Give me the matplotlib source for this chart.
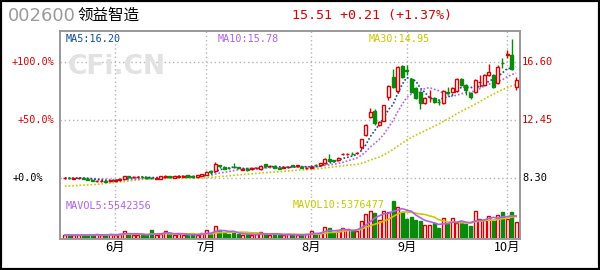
import matplotlib
matplotlib.use("Agg")
import matplotlib.pyplot as plt
import numpy as np
import pandas as pd
from matplotlib.patches import Rectangle

# ---------------- data ----------------
code = "002600"
name = "领益智造"
quote = "15.51 +0.21 (+1.37%)"
ma_labels = ["MA5:16.20", "MA10:15.78", "MA30:14.95"]
vol_labels = ["MAVOL5:5542356", "MAVOL10:5376477"]
month_labels = ["6月", "7月", "8月", "9月", "10月"]
month_idx = [11, 31, 54, 75, 97]
price_ticks = [8.30, 12.45, 16.60]
price_tick_labels = ["8.30", "12.45", "16.60"]
pct_tick_labels = ["+0.0%", "+50.0%", "+100.0%"]

prior_closes = [7.75, 7.70, 7.72, 7.68, 7.74, 7.70, 7.20, 7.15, 7.10, 7.18,
                7.12, 7.25, 7.30, 7.22, 7.28, 7.35, 7.40, 7.45, 7.60, 7.85,
                8.10, 8.20, 8.25, 8.30, 8.28, 8.32, 8.30, 8.26, 8.29]

opens = [8.28, 8.31, 8.25, 8.27, 8.32, 8.26, 8.18, 8.08, 8.07, 8.10,
         8.05, 8.12, 8.16, 8.23, 8.42, 8.35, 8.36, 8.40, 8.36, 8.32,
         8.25, 8.24, 8.36, 8.44, 8.32, 8.38, 8.40, 8.50, 8.42, 8.38,
         8.46, 8.53, 8.80, 8.78, 9.20, 9.12, 9.05, 9.12, 9.08, 8.90,
         8.95, 8.94, 8.98, 8.94, 9.28, 9.14, 9.15, 9.05, 9.02, 9.06,
         9.22, 9.14, 9.10, 9.00, 9.04, 9.24, 9.22, 9.38, 9.64, 9.56,
         9.56, 10.00, 10.00, 10.04, 10.06, 10.52, 11.38, 12.66, 13.09, 12.09,
         12.38, 14.10, 15.53, 14.52, 16.31, 16.05, 15.38, 14.74, 14.45, 13.67,
         14.08, 14.02, 13.76, 13.67, 14.42, 14.45, 14.52, 15.38, 14.95, 14.38,
         14.45, 15.15, 14.95, 15.67, 15.67, 15.10, 16.55, 17.12, 17.10, 14.81]

closes = [8.30, 8.29, 8.28, 8.33, 8.25, 8.18, 8.12, 8.12, 8.10, 8.03,
          8.14, 8.16, 8.24, 8.44, 8.36, 8.38, 8.39, 8.36, 8.29, 8.27,
          8.29, 8.43, 8.45, 8.35, 8.42, 8.44, 8.45, 8.40, 8.37, 8.48,
          8.56, 8.74, 8.72, 9.28, 9.14, 8.96, 8.98, 9.08, 8.98, 8.94,
          8.88, 8.98, 9.04, 9.16, 9.18, 9.18, 9.02, 8.96, 9.08, 9.12,
          9.16, 9.20, 9.02, 9.04, 9.10, 9.20, 9.34, 9.66, 9.55, 9.54,
          9.75, 10.03, 10.02, 10.00, 10.09, 11.09, 12.09, 13.02, 12.24, 12.31,
          13.52, 14.88, 14.81, 16.24, 15.53, 15.95, 14.45, 14.02, 13.67, 14.02,
          14.10, 13.74, 13.74, 14.52, 14.38, 14.74, 15.38, 14.95, 14.60, 14.10,
          15.31, 15.17, 15.67, 15.88, 14.81, 16.24, 16.50, 17.17, 16.10, 15.31]

highs = [8.36, 8.37, 8.33, 8.37, 8.36, 8.30, 8.22, 8.18, 8.15, 8.14,
         8.17, 8.22, 8.28, 8.47, 8.46, 8.44, 8.45, 8.43, 8.40, 8.35,
         8.32, 8.46, 8.50, 8.47, 8.45, 8.49, 8.52, 8.55, 8.46, 8.52,
         8.60, 8.77, 8.85, 9.42, 9.24, 9.18, 9.10, 9.38, 9.12, 9.00,
         9.00, 9.05, 9.10, 9.20, 9.32, 9.24, 9.20, 9.08, 9.12, 9.18,
         9.26, 9.26, 9.14, 9.10, 9.20, 9.30, 9.40, 9.70, 10.00, 9.62,
         9.80, 10.12, 10.10, 10.14, 10.14, 11.12, 12.14, 13.31, 13.24, 12.38,
         13.55, 14.92, 16.10, 16.31, 16.38, 16.40, 15.45, 14.80, 14.50, 14.10,
         14.60, 14.10, 13.95, 14.60, 14.81, 14.80, 15.45, 15.45, 15.00, 14.42,
         15.38, 15.67, 15.75, 16.46, 15.72, 16.35, 16.89, 17.46, 18.25, 15.53]

lows = [8.24, 8.20, 8.21, 8.24, 8.21, 8.14, 8.06, 8.04, 8.02, 7.99,
        8.02, 8.09, 8.12, 8.20, 8.31, 8.32, 8.33, 8.30, 8.26, 8.20,
        8.22, 8.22, 8.33, 8.31, 8.30, 8.36, 8.38, 8.38, 8.33, 8.35,
        8.44, 8.50, 8.69, 8.70, 9.05, 8.92, 8.94, 9.00, 8.92, 8.84,
        8.82, 8.90, 8.95, 8.90, 9.12, 9.10, 8.98, 8.92, 8.98, 9.02,
        9.10, 9.10, 8.98, 8.96, 9.00, 9.14, 9.18, 9.33, 9.50, 9.47,
        9.52, 9.92, 9.94, 9.92, 10.00, 10.30, 11.30, 12.60, 12.10, 12.02,
        12.35, 13.88, 14.74, 14.40, 15.45, 15.70, 14.40, 13.95, 13.24, 13.60,
        13.74, 13.68, 13.55, 13.62, 14.30, 14.40, 14.48, 14.90, 14.24, 13.95,
        14.40, 14.81, 14.90, 15.60, 14.75, 15.05, 16.20, 16.90, 16.05, 14.60]

# volume in units of 10,000 shares (万股)
volumes_wan = [96, 98, 94, 97, 95, 99, 93, 121, 96, 94,
               119, 97, 122, 193, 118, 95, 98, 94, 97, 217,
               95, 121, 193, 120, 97, 123, 95, 98, 119, 96,
               145, 217, 122, 313, 217, 145, 120, 146, 121, 95,
               122, 96, 119, 169, 121, 97, 123, 95, 98, 120,
               96, 97, 94, 121, 193, 145, 146, 289, 265, 145,
               193, 265, 241, 193, 192, 434, 603, 675, 627, 458,
               675, 651, 916, 771, 651, 482, 530, 458, 434, 337,
               337, 386, 265, 506, 362, 506, 386, 410, 362, 313,
               675, 482, 458, 554, 434, 578, 651, 482, 651, 410]

# ---------------- style ----------------
RED = "#dd0000"
GREEN = "#0a8a0a"
C_MA5 = "#0b4f9c"
C_MA10 = "#b25ff0"
C_MA30 = "#c8c800"
GRID = "#b4b4b4"
FRAME = "#999999"
MONO = "DejaVu Sans Mono"
CJK = ["Noto Sans CJK SC", "DejaVu Sans"]

W, H = 600, 270
fig = plt.figure(figsize=(6, 2.7), dpi=100)
fig.patch.set_facecolor("white")


def fx(px):
    return px / W


def fy(py):
    return 1 - py / H


L, R, T, B, SPLIT = 60, 520, 31, 239, 195

frame = fig.add_axes([fx(L), fy(B), (R - L) / W, (B - T) / H])
frame.set_xticks([])
frame.set_yticks([])
frame.set_facecolor("none")
for s in frame.spines.values():
    s.set_color(FRAME)
    s.set_linewidth(1.4)
frame.set_zorder(5)

pax = fig.add_axes([fx(L), fy(SPLIT), (R - L) / W, (SPLIT - T) / H])
vax = fig.add_axes([fx(L), fy(B), (R - L) / W, (B - SPLIT) / H])
for a in (pax, vax):
    a.set_axis_off()
    a.set_xlim(-1.07, 99.85)

per_px = (price_ticks[1] - price_ticks[0]) / 58.0
pax.set_ylim(price_ticks[0] - 17 * per_px, price_ticks[0] + 147 * per_px)
vax.set_ylim(0, 44 * 241000)

# grid
for p in price_ticks:
    pax.axhline(p, color=GRID, lw=1, ls=(0, (1, 2)), zorder=0)
for m in month_idx:
    pax.axvline(m, color=GRID, lw=1, ls=(0, (1, 2)), zorder=0)
    vax.axvline(m, color=GRID, lw=1, ls=(0, (1, 2)), zorder=0)

o = np.array(opens)
c = np.array(closes)
hi = np.array(highs)
lo = np.array(lows)
x = np.arange(len(c))
up = c >= o
cols = np.where(up, RED, GREEN)
faces = np.where(up, "white", GREEN)

# watermark
fig.text(fx(117), fy(67), "CFi.CN", color="#e2e2e2", fontsize=19,
         fontweight="bold", ha="center", va="center", family="DejaVu Sans", zorder=0)

# moving averages
full = pd.Series(list(prior_closes) + list(closes))
n0 = len(prior_closes)
for n, col in ((30, C_MA30), (10, C_MA10), (5, C_MA5)):
    ma = full.rolling(n, min_periods=1).mean().iloc[n0:].values
    pax.plot(x, ma, color=col, lw=1.2, ls=(0, (1, 1.2)), zorder=2)

# candles
pax.vlines(x, lo, hi, colors=cols, lw=1, zorder=3)
body_b = np.minimum(o, c)
body_h = np.maximum(np.abs(c - o), 0.012)
pax.bar(x, body_h, bottom=body_b, width=0.66, color=faces, edgecolor=cols,
        linewidth=1, zorder=4)

# volume
vol = np.array(volumes_wan) * 10000
vax.bar(x, vol, width=0.66, color=faces, edgecolor=cols, linewidth=1, zorder=3)
vs = pd.Series(vol)
vax.plot(x, vs.rolling(10, min_periods=1).mean().values, color=C_MA30, lw=1.2, zorder=4)
vax.plot(x, vs.rolling(5, min_periods=1).mean().values, color=C_MA10, lw=1.2, zorder=4)

# ---------------- texts ----------------
fig.text(fx(8), fy(16), code, color="#9a9a9a", fontsize=13, ha="left",
         va="center", family="DejaVu Sans")
fig.text(fx(77), fy(15), name, color="black", fontsize=11.2, ha="left",
         va="center", family=CJK)
fig.text(fx(292), fy(15), quote, color=RED, fontsize=9.6, ha="left",
         va="center", family=MONO)

fig.text(fx(66), fy(39), ma_labels[0], color=C_MA5, fontsize=7.3, ha="left", va="center", family=MONO)
fig.text(fx(218), fy(39), ma_labels[1], color=C_MA10, fontsize=7.3, ha="left", va="center", family=MONO)
fig.text(fx(369), fy(39), ma_labels[2], color=C_MA30, fontsize=7.3, ha="left", va="center", family=MONO)
fig.text(fx(66), fy(206), vol_labels[0], color=C_MA10, fontsize=7.3, ha="left", va="center", family=MONO)
fig.text(fx(293), fy(205), vol_labels[1], color=C_MA30, fontsize=7.3, ha="left", va="center", family=MONO)

# right price labels and left percent labels
right_cols = ["black", RED, RED]
left_x = [13, 18, 12]
for p, lab, pl, rc, lx in zip(price_ticks, price_tick_labels, pct_tick_labels, right_cols, left_x):
    ypix = T + (pax.get_ylim()[1] - p) / per_px
    fig.text(fx(522), fy(ypix), lab, color=rc, fontsize=7.5, ha="left", va="center", family=MONO)
    fig.text(fx(lx), fy(ypix), pl, color=rc, fontsize=7.3, ha="left", va="center", family=MONO)

# month labels
for m, lab in zip(month_idx, month_labels):
    xpix = L + (m + 1.07) / (99.85 + 1.07) * (R - L)
    fig.text(fx(xpix), fy(247.5), lab, color="black", fontsize=9, ha="center",
             va="center", family=CJK)

# outer black border
fig.patches.append(Rectangle((0, 0), 1, 1, transform=fig.transFigure, fill=False,
                             edgecolor="black", linewidth=3, zorder=10))

fig.savefig("out.png", dpi=100, facecolor="white")
